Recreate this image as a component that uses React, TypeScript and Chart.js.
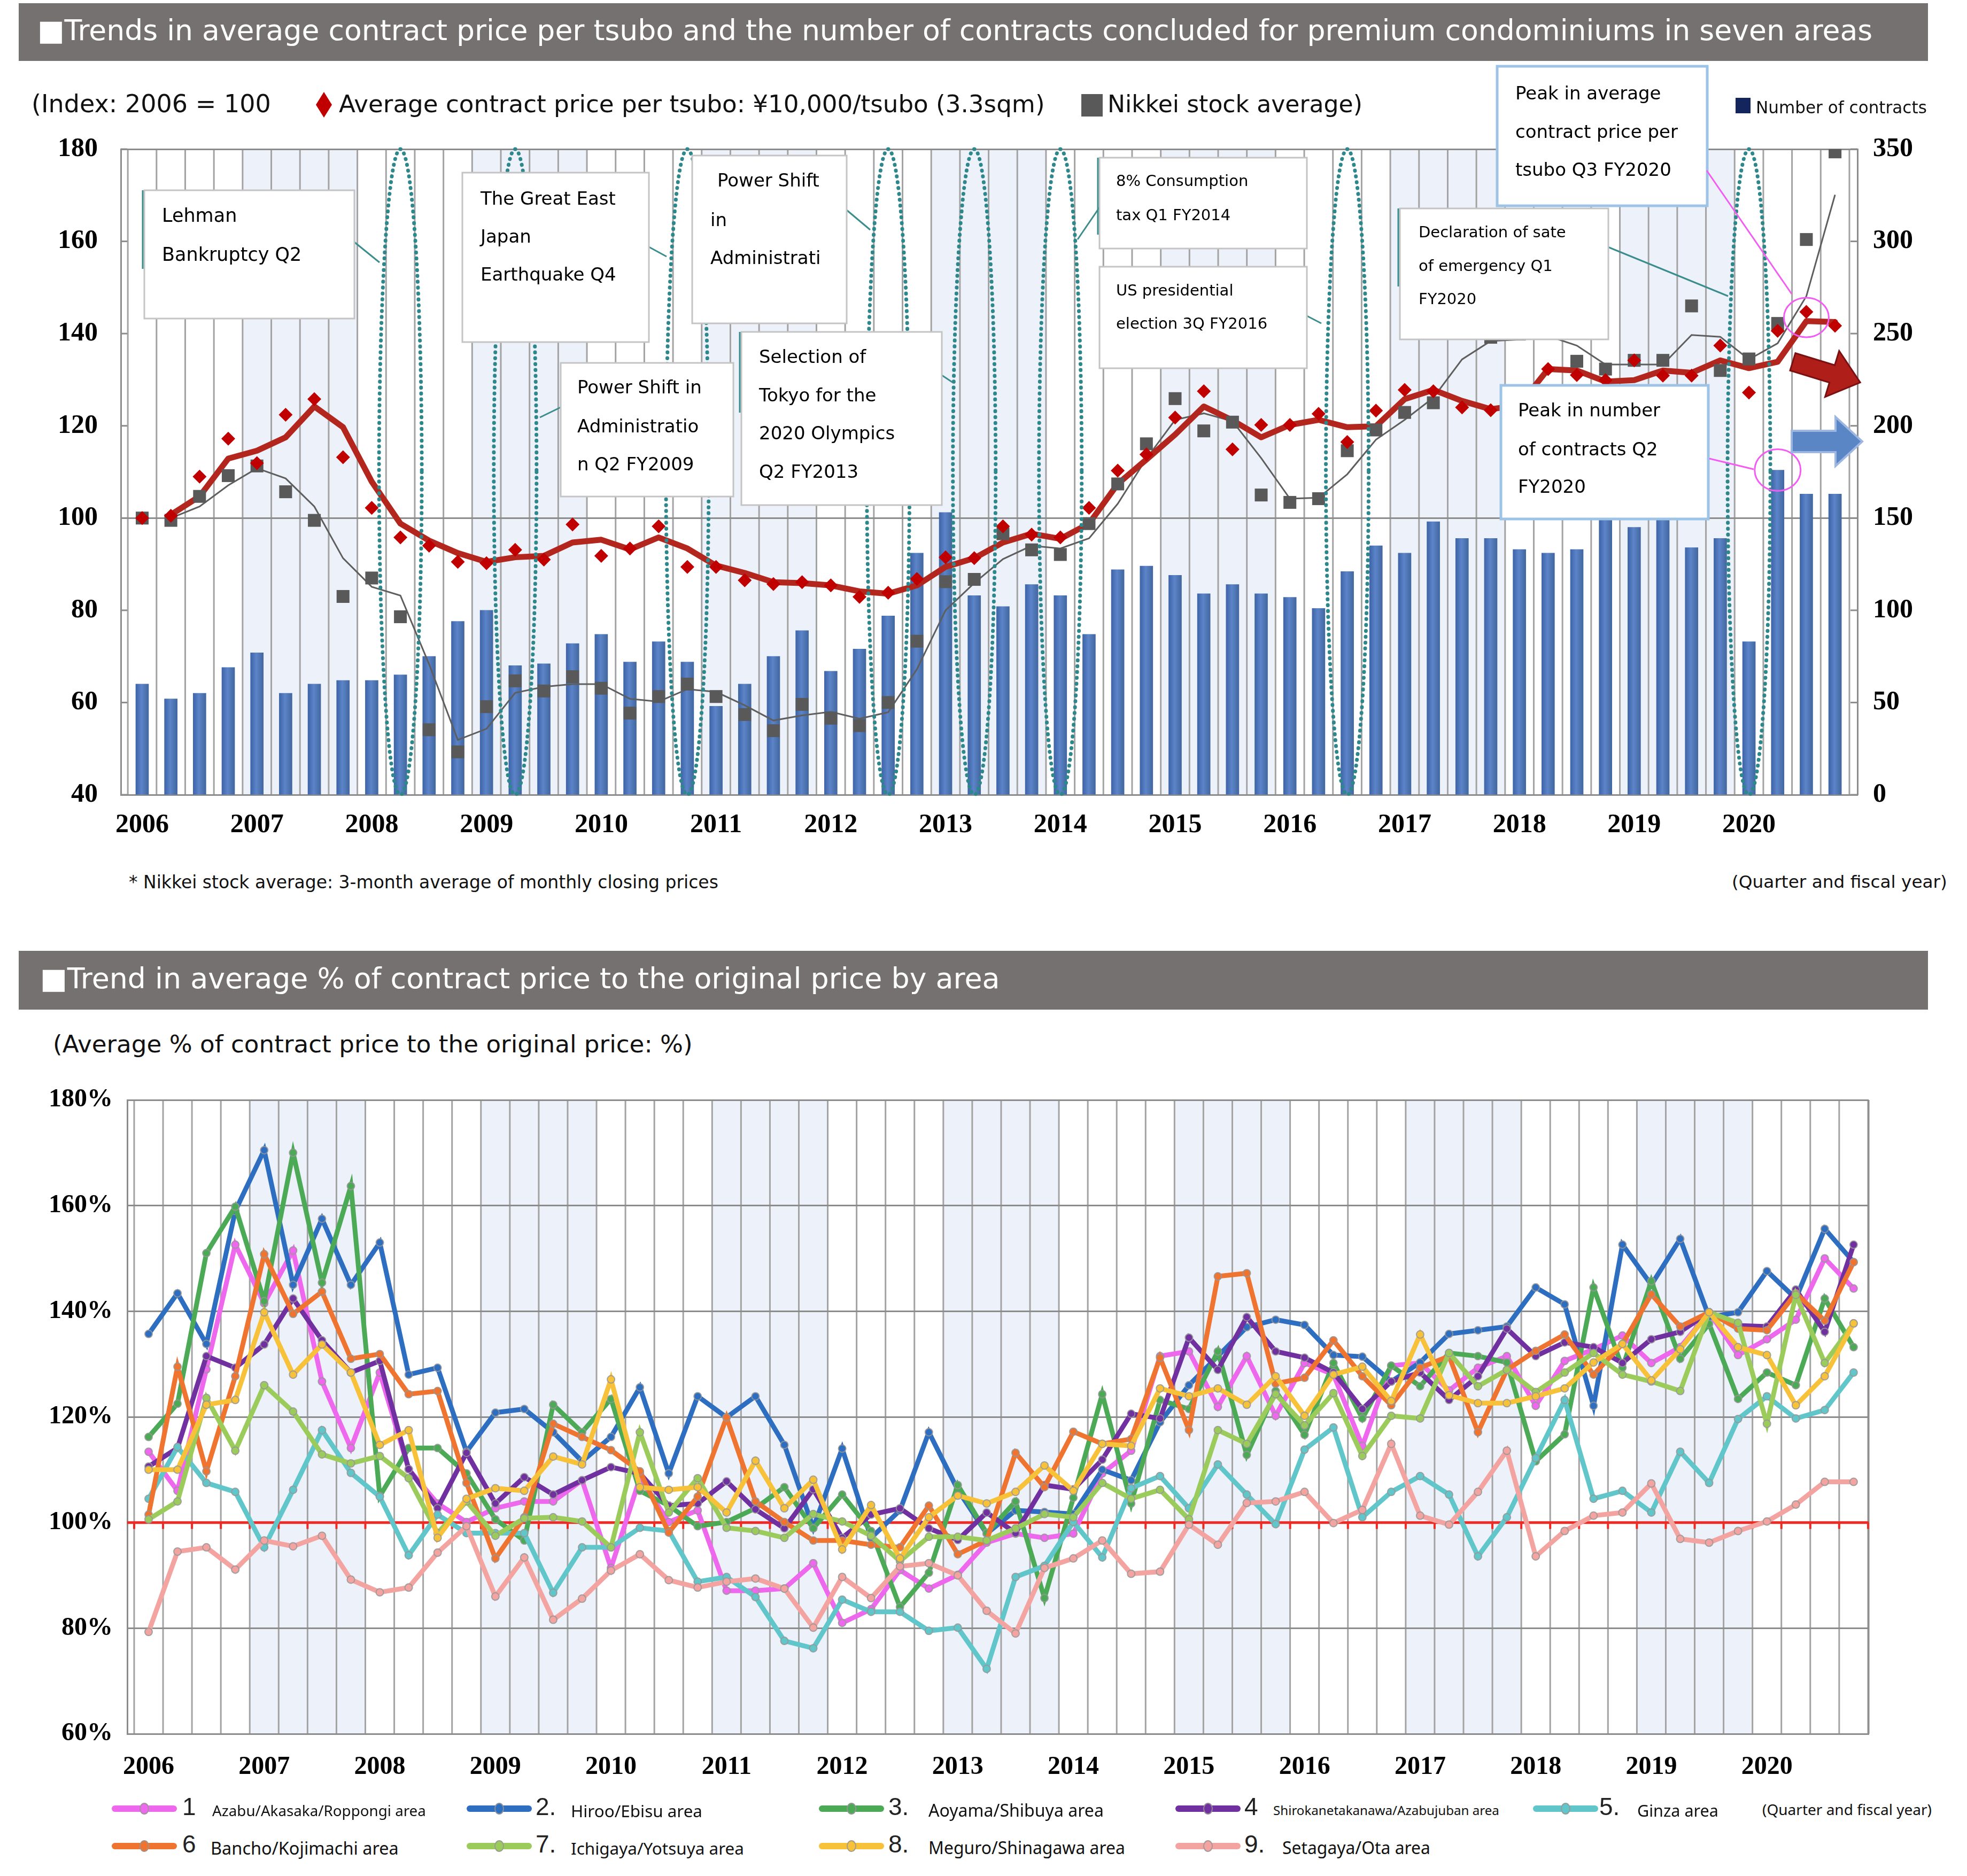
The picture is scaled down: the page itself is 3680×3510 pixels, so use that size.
import React, { useEffect, useRef } from 'react';
import { Chart, registerables } from 'chart.js';

Chart.register(...registerables);

// ---------------- data ----------------
const yearLabels = ['2006', '2007', '2008', '2009', '2010', '2011', '2012', '2013', '2014', '2015', '2016', '2017', '2018', '2019', '2020'];

// number of contracts per quarter (right axis)
const contracts = [60, 52, 55, 69, 77, 55, 60, 62, 62, 65, 75, 94, 100, 70, 71, 82, 87, 72, 83, 72, 48, 60, 75, 89, 67, 79, 97, 131, 153, 108, 102, 114, 108, 87, 122, 124, 119, 109, 114, 109, 107, 101, 121, 135, 131, 148, 139, 139, 133, 131, 133, 152, 145, 154, 134, 139, 83, 176, 163, 163];

// average contract price per tsubo, index (diamonds)
const priceIndex = [100, 100.5, 109, 117.2, 111.9, 122.4, 125.8, 113.2, 102.2, 95.8, 94, 90.5, 90.2, 93.1, 91, 98.6, 91.8, 93.4, 98.2, 89.4, 89.4, 86.5, 85.7, 86.1, 85.4, 82.9, 83.8, 86.8, 91.5, 91.3, 98.2, 96.4, 95.8, 102.2, 110.3, 113.8, 121.8, 127.5, 114.9, 120.2, 120.2, 122.6, 116.5, 123.3, 127.8, 127.5, 124, 123.4, 124.5, 132.3, 131, 129.9, 134.2, 130.9, 130.9, 137.4, 127.2, 140.6, 144.7, 141.7];

// smoothed trend of the price index (thick red line)
const priceTrend = [null, 100.7, 104.7, 112.9, 114.6, 117.5, 124.2, 119.7, 107.9, 98.8, 95.1, 92.4, 90.5, 91.5, 91.8, 94.7, 95.3, 93.2, 95.8, 93.4, 89.7, 88.1, 86.1, 85.9, 85.4, 84.1, 83.6, 85.4, 89.4, 91.3, 94.7, 96.6, 95.5, 98.8, 107.4, 112.7, 118.1, 124.2, 121.2, 117.5, 120.2, 121.3, 119.7, 119.9, 125.8, 127.8, 125.4, 123.6, 124.5, 132.3, 132, 129.6, 129.9, 132, 131.5, 134.2, 132.5, 133.9, 142.7, 142.5];

// Nikkei stock average, index (squares)
const nikkeiIndex = [100, 99.5, 104.7, 109.2, 111.3, 105.7, 99.5, 83, 87, 78.6, 54.1, 49.3, 59.1, 64.7, 62.5, 65.6, 63.1, 57.7, 61.3, 64, 61.3, 57.4, 53.9, 59.6, 56.6, 55, 60, 73.3, 86.2, 86.7, 96.6, 93.1, 92.1, 98.8, 107.4, 116.1, 125.9, 118.9, 120.8, 105, 103.4, 104.2, 114.6, 119.1, 122.9, 125, 141, 139.2, 139.9, 145, 134, 132.3, 134.2, 134.2, 146, 132, 134.5, 142.2, 160.4, 179.4];

// smoothed Nikkei trend (thin grey line)
const nikkeiTrend = [null, 100, 102.5, 107.1, 110.8, 108.6, 102.5, 91.3, 85.1, 83.2, 68.3, 51.9, 54.3, 62.1, 63.4, 64, 64, 60.8, 60.2, 62.9, 62.3, 59.4, 56.1, 57.2, 58, 56.5, 57.9, 67.2, 80, 85.9, 91.1, 94, 93.4, 95.6, 103.1, 112.9, 121.3, 122.7, 121, 113, 104.2, 104.4, 109.5, 117, 121.3, 126.1, 134.4, 138.4, 138.7, 139.5, 137.4, 133.3, 133.3, 133.3, 139.7, 139.3, 134.4, 137.9, 148.1, 170.1];

// quarters marked by the dotted ellipses
const eventQuarters = [9, 13, 19, 26, 29, 32, 42, 56];

// % of contract price to original price, by area
const area1 = [113.4, 106, 129, 152.6, 141.5, 151.5, 126.7, 114.1, 128.4, 110.1, 103.6, 100.1, 102.7, 104, 104, 108, 91.4, 108.4, 100.1, 102.3, 87.1, 87.1, 87.5, 92.3, 81, 83.6, 91, 87.5, 90.1, 96.2, 97.9, 97.1, 97.9, 109.3, 113.6, 131.5, 132.4, 121.9, 131.5, 120.2, 130.2, 128, 114.5, 129.7, 130.2, 125, 129.3, 131.5, 122.1, 130.6, 132.8, 135.4, 130.2, 133.2, 139.8, 131.7, 134.7, 138.4, 150, 144.3];
const area2 = [135.7, 143.4, 133.8, 159, 170.5, 145, 157.5, 145, 153, 128, 129.3, 113.4, 120.8, 121.5, 117.1, 111.6, 116.2, 125.6, 109.3, 123.9, 119.9, 123.9, 114.7, 99, 114, 97.1, 102.3, 117.1, 106.2, 97.9, 102.3, 102, 101.6, 110, 108, 119, 126, 131.5, 137, 138.4, 137.4, 131.7, 131.4, 126.7, 130.3, 135.7, 136.4, 137.1, 144.5, 141.3, 122.1, 152.6, 145, 153.7, 138.9, 139.8, 147.6, 142.4, 155.6, 149.3];
const area3 = [116.2, 122.5, 151, 159.8, 141.9, 170, 145.4, 163.7, 105, 114.1, 114.1, 109.3, 100.6, 96.6, 122.3, 117.1, 123.4, 106, 103.2, 99.3, 100.1, 102.7, 106.7, 98.9, 105.3, 98.4, 84, 90.5, 107.1, 98, 104, 85.7, 104.7, 124.3, 103.6, 123.2, 121.5, 132.4, 112.8, 124.9, 116.6, 130.2, 119.7, 129.7, 125.8, 132.1, 131.5, 130.3, 111.6, 116.7, 144.5, 129.3, 145.7, 131, 137.6, 123.4, 128.4, 126, 142.4, 133.2];
const area4 = [110.6, 114.1, 131.5, 129.3, 133.7, 142.4, 134.5, 128.4, 130.6, 110.1, 102.7, 113.2, 103.6, 108.6, 105.3, 108, 110.5, 109.3, 103.2, 103.6, 107.8, 102.5, 98.9, 106.3, 97.1, 101.5, 102.7, 98.9, 96.7, 101.9, 98, 107.1, 106.3, 111.9, 120.6, 119.7, 135, 128.9, 138.9, 132.4, 131.2, 128.4, 121.5, 126.7, 128.4, 123.2, 127.7, 136.7, 131.5, 134.1, 133.2, 130.2, 134.7, 136.1, 139.8, 137.3, 137.1, 144.1, 136.1, 152.6];
const area5 = [104.5, 114.3, 107.5, 105.8, 95.3, 106.2, 117.5, 109.4, 104.9, 93.8, 101.5, 98, 98, 98, 86.7, 95.3, 95.3, 99, 98.4, 88.8, 89.7, 85.9, 77.6, 76.2, 85.4, 83.1, 83.1, 79.5, 80.1, 72.3, 89.7, 91.8, 100.1, 93.4, 106.5, 108.8, 102.7, 111, 105.3, 99.7, 113.8, 118, 101, 105.8, 108.8, 105.3, 93.6, 101, 112.2, 123.2, 104.5, 106, 101.9, 113.4, 107.5, 119.6, 123.9, 119.7, 121.3, 128.4];
const area6 = [101.5, 129.5, 109.7, 127.7, 150.8, 139.5, 143.7, 131, 131.9, 124.3, 124.9, 107.5, 93.2, 101, 118.7, 116.2, 113.7, 109.7, 98.1, 104.9, 119.9, 104, 100.1, 96.6, 96.6, 95.8, 95.3, 103.2, 94, 96.6, 113.2, 106.7, 117.2, 114.9, 115.8, 131.2, 117.5, 146.6, 147.2, 126.3, 127.4, 134.5, 127.7, 122.2, 129.3, 131.5, 117.1, 128.9, 132.5, 135.6, 128, 133.8, 143.2, 137.1, 139.8, 136.7, 136.4, 143.4, 138.2, 149.3];
const area7 = [100.6, 104, 123.6, 113.6, 126, 121, 112.9, 111.2, 112.6, 108.4, 98, 104, 97.5, 100.8, 101, 100.2, 95.3, 117.1, 101.9, 108.4, 99, 98.4, 97.1, 101.6, 100.2, 97.5, 92.7, 97.3, 97.3, 96.6, 98.9, 101.6, 101, 107.5, 104.5, 106.2, 100.6, 117.5, 114.9, 124.3, 118.4, 124.5, 112.6, 120.2, 119.7, 132.1, 125.8, 128.9, 124.7, 128.4, 132.1, 128, 126.7, 124.9, 139.8, 137.8, 118.7, 143.1, 130.2, 137.7];
const area8 = [110, 110, 122.3, 123.2, 139.8, 128, 133.7, 128.4, 114.7, 117.5, 97.1, 104.5, 106.5, 106, 112.5, 111, 127.1, 106.7, 106.2, 106.7, 101.9, 111.7, 102.7, 108.1, 94.9, 103.3, 93.2, 101, 105.1, 103.6, 105.8, 110.8, 106, 114.9, 114.5, 125.4, 123.9, 125.4, 122.3, 127.7, 120.2, 128, 129.5, 123, 135.6, 124.1, 122.6, 122.6, 123.9, 125.4, 130.3, 133.8, 126.9, 132.8, 139.8, 133.2, 131.7, 122.2, 127.7, 137.7];
const area9 = [79.3, 94.5, 95.3, 91.1, 96.6, 95.5, 97.5, 89.2, 86.8, 87.7, 94.3, 99.3, 86, 93.4, 81.6, 85.6, 90.9, 94, 89.1, 87.7, 88.8, 89.4, 87.5, 80.1, 89.7, 85.7, 91.7, 92.3, 90, 83.3, 79, 91.4, 93.2, 96.6, 90.3, 90.7, 99.6, 95.8, 103.7, 104, 105.8, 99.9, 102.4, 114.9, 101.3, 99.6, 105.8, 113.6, 93.6, 98.4, 101.3, 101.9, 107.4, 96.9, 96.2, 98.4, 100.2, 103.4, 107.7, 107.7];

const areaNums = ['1', '2.', '3.', '4', '5.', '6', '7.', '8.', '9.'];
const areaNames = ['Azabu/Akasaka/Roppongi area', 'Hiroo/Ebisu area', 'Aoyama/Shibuya area', 'Shirokanetakanawa/Azabujuban area', 'Ginza area', 'Bancho/Kojimachi area', 'Ichigaya/Yotsuya area', 'Meguro/Shinagawa area', 'Setagaya/Ota area'];
const areaColors = ['#EE68EE', '#2E6EC0', '#4CAA57', '#7030A0', '#60C6CA', '#EE7430', '#9BCB5B', '#F7C13A', '#F3A3A0'];

// ---------------- style constants ----------------
const SANS = '"DejaVu Sans", Verdana, sans-serif';
const SERIF = '"Liberation Serif", "Times New Roman", serif';
const LSANS = '"Noto Sans", "Open Sans", sans-serif';
const NARROW = '"Liberation Sans Narrow", "Liberation Sans", Arial, sans-serif';
const GRID = '#8C8C8C';
const VGRID = '#A3A3A3';
const SHADE = '#EDF1F9';
const TEAL = '#2E878A';

const TOP_Y = 100;
const TOP_H = 1520;
const BOT_Y = 2000;
const BOT_H = 1360;

const toXY = (arr: (number | null)[]) => arr.map((y, i) => ({ x: i, y }));

let measureCtx: CanvasRenderingContext2D | null = null;
function fitSize(text: string, family: string, weight: string, width: number) {
  if (!measureCtx) measureCtx = document.createElement('canvas').getContext('2d');
  if (!measureCtx) return 30;
  measureCtx.font = `${weight} 100px ${family}`;
  const w = measureCtx.measureText(text).width || 1;
  return (100 * width) / w;
}

function Txt(props: { text: string; x: number; cy: number; w?: number; size?: number; family?: string; weight?: string; color?: string }) {
  const family = props.family || SANS;
  const weight = props.weight || 'normal';
  const size = props.size || fitSize(props.text, family, weight, props.w || 100);
  return (
    <div
      style={{
        position: 'absolute',
        left: props.x,
        top: props.cy - size * 0.62,
        fontFamily: family,
        fontWeight: weight as any,
        fontSize: size,
        lineHeight: `${size * 1.2}px`,
        color: props.color || '#111',
        whiteSpace: 'nowrap',
      }}
    >
      {props.text}
    </div>
  );
}

// ---------------- top chart ----------------
type Box = { r: number[]; lines: [string, number, number][]; size: number; blue?: boolean };
const boxes: Box[] = [
  { r: [270, 356, 663, 596], lines: [['Lehman', 303, 406], ['Bankruptcy Q2', 303, 479]], size: 35 },
  { r: [865, 323, 1214, 640], lines: [['The Great East', 899, 374], ['Japan', 899, 445], ['Earthquake Q4', 899, 516]], size: 34 },
  { r: [1049, 679, 1372, 929], lines: [['Power Shift in', 1080, 727], ['Administratio', 1080, 800], ['n Q2 FY2009', 1080, 871]], size: 34 },
  { r: [1295, 291, 1584, 605], lines: [['Power Shift', 1342, 340], ['in', 1329, 414], ['Administrati', 1329, 485]], size: 34 },
  { r: [1387, 621, 1762, 945], lines: [['Selection of', 1420, 670], ['Tokyo for the', 1420, 742], ['2020 Olympics', 1420, 813], ['Q2 FY2013', 1420, 885]], size: 34 },
  { r: [2057, 295, 2445, 465], lines: [['8% Consumption', 2088, 340], ['tax Q1 FY2014', 2088, 404]], size: 29 },
  { r: [2057, 499, 2445, 689], lines: [['US presidential', 2088, 545], ['election 3Q FY2016', 2088, 607]], size: 29 },
  { r: [2619, 390, 3009, 635], lines: [['Declaration of sate', 2654, 436], ['of emergency Q1', 2654, 499], ['FY2020', 2654, 561]], size: 29 },
  { r: [2801, 124, 3194, 385], lines: [['Peak in average', 2835, 177], ['contract price per', 2835, 249], ['tsubo Q3 FY2020', 2835, 320]], size: 34, blue: true },
  { r: [2808, 721, 3196, 971], lines: [['Peak in number', 2840, 770], ['of contracts Q2', 2840, 843], ['FY2020', 2840, 913]], size: 34, blue: true },
];
const tealLeaders = [
  [663, 453, 710, 491], [1214, 462, 1247, 480], [1049, 762, 1010, 781], [1584, 393, 1628, 430],
  [1762, 702, 1783, 716], [2057, 388, 2016, 448], [2445, 591, 2472, 605], [3008, 462, 3233, 554],
];
const tealEdges = [[267, 356, 267, 503], [1384, 621, 1384, 772], [2054, 295, 2054, 439], [2616, 390, 2616, 536]];

function seg(ctx: CanvasRenderingContext2D, x0: number, y0: number, x1: number, y1: number) {
  ctx.beginPath();
  ctx.moveTo(x0, y0);
  ctx.lineTo(x1, y1);
  ctx.stroke();
}

function arrow(ctx: CanvasRenderingContext2D, tx: number, ty: number, ang: number, L: number, sh: number, hh: number, hl: number, fill: string, stroke: string, lw: number) {
  ctx.save();
  ctx.translate(tx, ty);
  ctx.rotate(ang);
  ctx.beginPath();
  ctx.moveTo(0, -sh);
  ctx.lineTo(L - hl, -sh);
  ctx.lineTo(L - hl, -hh);
  ctx.lineTo(L, 0);
  ctx.lineTo(L - hl, hh);
  ctx.lineTo(L - hl, sh);
  ctx.lineTo(0, sh);
  ctx.closePath();
  ctx.fillStyle = fill;
  ctx.fill();
  ctx.lineWidth = lw;
  ctx.strokeStyle = stroke;
  ctx.lineJoin = 'miter';
  ctx.stroke();
  ctx.restore();
}

const topDecor = {
  id: 'topDecor',
  beforeDraw(chart: any) {
    const { ctx, chartArea: a, scales } = chart;
    const x = scales.x;
    ctx.save();
    ctx.fillStyle = SHADE;
    for (let k = 1; k < yearLabels.length; k += 2) {
      const x0 = x.getPixelForValue(4 * k - 0.5);
      const x1 = x.getPixelForValue(4 * k + 3.5);
      ctx.fillRect(x0, a.top, x1 - x0, a.bottom - a.top);
    }
    ctx.strokeStyle = VGRID;
    ctx.lineWidth = 3;
    for (let i = 0; i <= contracts.length; i++) {
      const px = x.getPixelForValue(i - 0.5);
      seg(ctx, px, a.top, px, a.bottom);
    }
    ctx.strokeStyle = GRID;
    for (const t of scales.y.ticks) {
      const py = scales.y.getPixelForValue(t.value);
      seg(ctx, a.left, py, a.left + 12, py);
    }
    for (const t of scales.y1.ticks) {
      const py = scales.y1.getPixelForValue(t.value);
      seg(ctx, a.right - 13, py, a.right, py);
    }
    ctx.restore();
  },
  afterDraw(chart: any) {
    const { ctx, chartArea: a, scales } = chart;
    const x = scales.x;
    const Y = (py: number) => py - TOP_Y;
    ctx.save();
    // dotted ellipses
    ctx.strokeStyle = TEAL;
    ctx.lineWidth = 7;
    ctx.lineCap = 'round';
    ctx.setLineDash([0.5, 10.5]);
    for (const q of eventQuarters) {
      const cx = x.getPixelForValue(q);
      ctx.beginPath();
      ctx.ellipse(cx, (a.top + a.bottom) / 2, 40, (a.bottom - a.top) / 2, 0, 0, Math.PI * 2);
      ctx.stroke();
    }
    ctx.setLineDash([]);
    ctx.lineCap = 'butt';
    // leaders
    ctx.strokeStyle = '#3B8C8C';
    ctx.lineWidth = 3;
    for (const l of tealLeaders) seg(ctx, l[0], Y(l[1]), l[2], Y(l[3]));
    // boxes
    for (const b of boxes) {
      const [x0, y0, x1, y1] = b.r;
      ctx.fillStyle = '#fff';
      ctx.fillRect(x0, Y(y0), x1 - x0, y1 - y0);
      ctx.strokeStyle = b.blue ? '#9DC3E6' : '#C4C4C4';
      ctx.lineWidth = b.blue ? 5 : 3;
      ctx.strokeRect(x0, Y(y0), x1 - x0, y1 - y0);
      ctx.fillStyle = '#000';
      ctx.font = `${b.size}px ${SANS}`;
      ctx.textBaseline = 'middle';
      ctx.textAlign = 'left';
      for (const [t, tx, ty] of b.lines) ctx.fillText(t, tx, Y(ty));
    }
    ctx.strokeStyle = '#3B8C8C';
    ctx.lineWidth = 3;
    for (const l of tealEdges) seg(ctx, l[0], Y(l[1]), l[2], Y(l[3]));
    // pink highlight circles
    ctx.strokeStyle = '#F25CF2';
    ctx.lineWidth = 3;
    seg(ctx, 3193, Y(319), 3352, Y(550));
    seg(ctx, 3198, Y(858), 3281, Y(878));
    ctx.beginPath();
    ctx.ellipse(x.getPixelForValue(58), scales.y.getPixelForValue(143.5), 42, 37, 0, 0, Math.PI * 2);
    ctx.stroke();
    ctx.beginPath();
    ctx.ellipse(x.getPixelForValue(57), scales.y1.getPixelForValue(176), 43, 39, 0, 0, Math.PI * 2);
    ctx.stroke();
    // arrows
    arrow(ctx, 3354, Y(677), (17 * Math.PI) / 180, 132, 17, 45, 55, '#B01E1A', '#7A1010', 3);
    arrow(ctx, 3352, Y(826), 0, 132, 20, 46, 50, '#5B86C6', '#9DB7E0', 4);
    ctx.restore();
  },
};

function TopChart() {
  const ref = useRef<HTMLCanvasElement>(null);
  useEffect(() => {
    const canvas = ref.current;
    if (!canvas) return;
    const barColor = (c: any) => {
      const chart = c.chart;
      const xs = chart.scales && chart.scales.x;
      if (!xs || c.type !== 'data' || !isFinite(xs.left)) return '#4C74B8';
      const px = xs.getPixelForValue(c.dataIndex);
      if (!isFinite(px)) return '#4C74B8';
      const g = chart.ctx.createLinearGradient(px - 12, 0, px + 12, 0);
      g.addColorStop(0, '#3E64A8');
      g.addColorStop(0.45, '#5C84C8');
      g.addColorStop(1, '#42679F');
      return g;
    };
    const chart = new Chart(canvas, {
      type: 'bar',
      data: {
        datasets: [
          { type: 'line', data: toXY(priceIndex), showLine: false, pointStyle: 'rectRot', pointRadius: 13, pointBackgroundColor: '#C00000', pointBorderWidth: 0, borderColor: '#C00000', yAxisID: 'y', order: 0 } as any,
          { type: 'line', data: toXY(nikkeiIndex), showLine: false, pointStyle: 'rect', pointRadius: 17, pointBackgroundColor: '#595959', pointBorderWidth: 0, borderColor: '#595959', yAxisID: 'y', order: 1 } as any,
          { type: 'line', data: toXY(priceTrend), borderColor: '#B3261E', borderWidth: 11, pointRadius: 0, yAxisID: 'y', order: 2, borderJoinStyle: 'round', borderCapStyle: 'round' } as any,
          { type: 'line', data: toXY(nikkeiTrend), borderColor: '#5E5E5E', borderWidth: 3, pointRadius: 0, yAxisID: 'y', order: 3 } as any,
          { type: 'bar', data: toXY(contracts), backgroundColor: barColor, barThickness: 24, yAxisID: 'y1', order: 4 } as any,
        ],
      },
      options: {
        responsive: false,
        animation: false,
        devicePixelRatio: 1,
        layout: { padding: { top: 179, bottom: 33, left: 0, right: 0 } },
        plugins: { legend: { display: false }, tooltip: { enabled: false } },
        events: [],
        scales: {
          x: {
            type: 'linear',
            min: -0.745,
            max: 59.78,
            offset: false,
            afterBuildTicks: (s: any) => {
              s.ticks = yearLabels.map((_, k) => ({ value: k * 4 }));
            },
            afterFit: (s: any) => {
              s.height = 100;
            },
            ticks: {
              autoSkip: false,
              maxRotation: 0,
              padding: 27,
              color: '#000',
              font: { family: SERIF, size: 50, weight: 'bold' },
              callback: (v: any) => yearLabels[Math.round(Number(v) / 4)],
            },
            grid: { display: false, drawTicks: false, offset: false },
            border: { display: true, color: GRID, width: 3 },
          },
          y: {
            type: 'linear',
            position: 'left',
            min: 40,
            max: 180,
            afterFit: (s: any) => {
              s.width = 226;
            },
            ticks: { stepSize: 20, padding: 43, color: '#000', font: { family: SERIF, size: 50, weight: 'bold' } },
            grid: {
              drawTicks: false,
              lineWidth: 3,
              color: (c: any) => (c.tick && (c.tick.value === 100 || c.tick.value === 180) ? GRID : 'rgba(0,0,0,0)'),
            },
            border: { display: true, color: GRID, width: 3 },
          },
          y1: {
            type: 'linear',
            position: 'right',
            min: 0,
            max: 350,
            afterFit: (s: any) => {
              s.width = 205;
            },
            ticks: { stepSize: 50, padding: 29, color: '#000', font: { family: SERIF, size: 50, weight: 'bold' } },
            grid: { drawOnChartArea: false, drawTicks: false },
            border: { display: true, color: GRID, width: 3 },
          },
        },
      } as any,
      plugins: [topDecor],
    });
    return () => chart.destroy();
  }, []);
  return <canvas ref={ref} width={3680} height={TOP_H} style={{ position: 'absolute', left: 0, top: TOP_Y, width: 3680, height: TOP_H }} />;
}

// ---------------- bottom chart ----------------
const bottomDecor = {
  id: 'bottomDecor',
  beforeDraw(chart: any) {
    const { ctx, chartArea: a, scales } = chart;
    const x = scales.x;
    ctx.save();
    ctx.fillStyle = SHADE;
    for (let k = 1; k < yearLabels.length; k += 2) {
      const x0 = x.getPixelForValue(4 * k - 0.5);
      const x1 = x.getPixelForValue(4 * k + 3.5);
      ctx.fillRect(x0, a.top, x1 - x0, a.bottom - a.top);
    }
    ctx.strokeStyle = VGRID;
    ctx.lineWidth = 3;
    for (let i = 0; i <= area1.length; i++) {
      const px = x.getPixelForValue(i - 0.5);
      seg(ctx, px, a.top, px, a.bottom);
    }
    ctx.strokeStyle = GRID;
    seg(ctx, a.right, a.top, a.right, a.bottom);
    ctx.restore();
  },
  beforeDatasetsDraw(chart: any) {
    const { ctx, chartArea: a, scales } = chart;
    const x = scales.x;
    const py = scales.y.getPixelForValue(100);
    ctx.save();
    ctx.strokeStyle = '#EE2A24';
    ctx.lineWidth = 5;
    seg(ctx, a.left, py, a.right, py);
    ctx.lineWidth = 4;
    for (let i = 0; i <= area1.length; i++) {
      const px = x.getPixelForValue(i - 0.5);
      seg(ctx, px, py, px, py + 12);
    }
    ctx.restore();
  },
};

function BottomChart() {
  const ref = useRef<HTMLCanvasElement>(null);
  useEffect(() => {
    const canvas = ref.current;
    if (!canvas) return;
    const series = [area1, area2, area3, area4, area5, area6, area7, area8, area9];
    const chart = new Chart(canvas, {
      type: 'line',
      data: {
        datasets: series.map((s, k) => ({
          label: areaNames[k],
          data: toXY(s),
          borderColor: areaColors[k],
          backgroundColor: areaColors[k],
          borderWidth: 9,
          pointRadius: 7,
          pointBackgroundColor: areaColors[k],
          pointBorderColor: 'rgba(150,150,150,0.85)',
          pointBorderWidth: 2,
          tension: 0,
          order: 9 - k,
        })) as any,
      },
      options: {
        responsive: false,
        animation: false,
        devicePixelRatio: 1,
        events: [],
        layout: { padding: { top: 58, bottom: 16, left: 0, right: 184 } },
        plugins: { legend: { display: false }, tooltip: { enabled: false } },
        scales: {
          x: {
            type: 'linear',
            min: -0.74,
            max: 59.52,
            offset: false,
            afterBuildTicks: (s: any) => {
              s.ticks = yearLabels.map((_, k) => ({ value: k * 4 }));
            },
            afterFit: (s: any) => {
              s.height = 100;
            },
            ticks: {
              autoSkip: false,
              maxRotation: 0,
              padding: 34,
              color: '#000',
              font: { family: SERIF, size: 48, weight: 'bold' },
              callback: (v: any) => yearLabels[Math.round(Number(v) / 4)],
            },
            grid: { display: false, drawTicks: false },
            border: { display: true, color: GRID, width: 3 },
          },
          y: {
            type: 'linear',
            min: 60,
            max: 180,
            afterFit: (s: any) => {
              s.width = 238;
            },
            ticks: {
              stepSize: 20,
              padding: 27,
              color: '#000',
              font: { family: SERIF, size: 48, weight: 'bold' },
              callback: (v: any) => `${v}%`,
            },
            grid: { color: GRID, lineWidth: 3, drawTicks: false },
            border: { display: true, color: GRID, width: 3 },
          },
        },
      } as any,
      plugins: [bottomDecor],
    });
    return () => chart.destroy();
  }, []);
  return <canvas ref={ref} width={3680} height={BOT_H} style={{ position: 'absolute', left: 0, top: BOT_Y, width: 3680, height: BOT_H }} />;
}

// ---------------- legend items for bottom chart ----------------
const legendCols = [209, 873, 1532, 2199, 2868];
const numX = [341, 1002, 1662, 2328, 2992];
const nameX = [397, 1068, 1737, 2382, 3063, 394, 1068, 1737, 2399];
const nameW = [400, 246, 328, 423, 152, 352, 324, 368, 277];

function LegendSwatch({ x, cy, color }: { x: number; cy: number; color: string }) {
  return (
    <div style={{ position: 'absolute', left: x, top: cy - 6, width: 122, height: 12 }}>
      <div style={{ position: 'absolute', left: 0, top: 0, width: 122, height: 12, borderRadius: 6, background: color }} />
      <div
        style={{
          position: 'absolute',
          left: 61 - 9,
          top: 6 - 11,
          width: 14,
          height: 18,
          borderRadius: '50%',
          background: color,
          border: '2px solid rgba(150,150,150,0.85)',
        }}
      />
    </div>
  );
}

export default function App() {
  useEffect(() => {
    document.body.style.margin = '0';
  }, []);
  const rowY = [3386, 3456];
  return (
    <div style={{ position: 'absolute', left: 0, top: 0, width: 3680, height: 3510, background: '#fff', overflow: 'hidden', fontFamily: SANS }}>
      {/* title 1 */}
      <div style={{ position: 'absolute', left: 35, top: 6, width: 3572, height: 108, background: '#767171' }} />
      <Txt text="■Trends in average contract price per tsubo and the number of contracts concluded for premium condominiums in seven areas" x={70} cy={58} w={3434} color="#fff" />

      <TopChart />

      {/* top legend line */}
      <Txt text="(Index: 2006 = 100" x={59} cy={196} w={448} />
      <svg style={{ position: 'absolute', left: 591, top: 172 }} width={30} height={48}>
        <polygon points="15,0 30,24 15,48 0,24" fill="#C00000" />
      </svg>
      <Txt text="Average contract price per tsubo: ¥10,000/tsubo (3.3sqm)" x={634} cy={196} w={1321} />
      <div style={{ position: 'absolute', left: 2023, top: 176, width: 40, height: 42, background: '#595959' }} />
      <Txt text="Nikkei stock average)" x={2072} cy={196} w={477} />
      <div style={{ position: 'absolute', left: 3247, top: 183, width: 28, height: 29, background: '#14245C' }} />
      <Txt text="Number of contracts" x={3285} cy={202} w={320} />

      <Txt text="* Nikkei stock average: 3-month average of monthly closing prices" x={241} cy={1651} w={1103} />
      <Txt text="(Quarter and fiscal year)" x={3240} cy={1651} w={403} />

      {/* title 2 */}
      <div style={{ position: 'absolute', left: 35, top: 1779, width: 3572, height: 110, background: '#767171' }} />
      <Txt text="■Trend in average % of contract price to the original price by area" x={75} cy={1832} w={1796} color="#fff" />
      <Txt text="(Average % of contract price to the original price: %)" x={99} cy={1955} w={1197} />

      <BottomChart />

      {areaNames.map((name, k) => {
        const row = k < 5 ? 0 : 1;
        const col = k < 5 ? k : k - 5;
        return (
          <React.Fragment key={name}>
            <LegendSwatch x={legendCols[col]} cy={rowY[row] - 2} color={areaColors[k]} />
            <Txt text={areaNums[k]} x={numX[col]} cy={rowY[row] - 4} size={46} family={NARROW} color="#222" />
            <Txt text={name} x={nameX[k]} cy={rowY[row] + 2} w={nameW[k]} family={LSANS} />
          </React.Fragment>
        );
      })}
      <Txt text="(Quarter and fiscal year)" x={3297} cy={3386} w={317} family={LSANS} />
    </div>
  );
}
